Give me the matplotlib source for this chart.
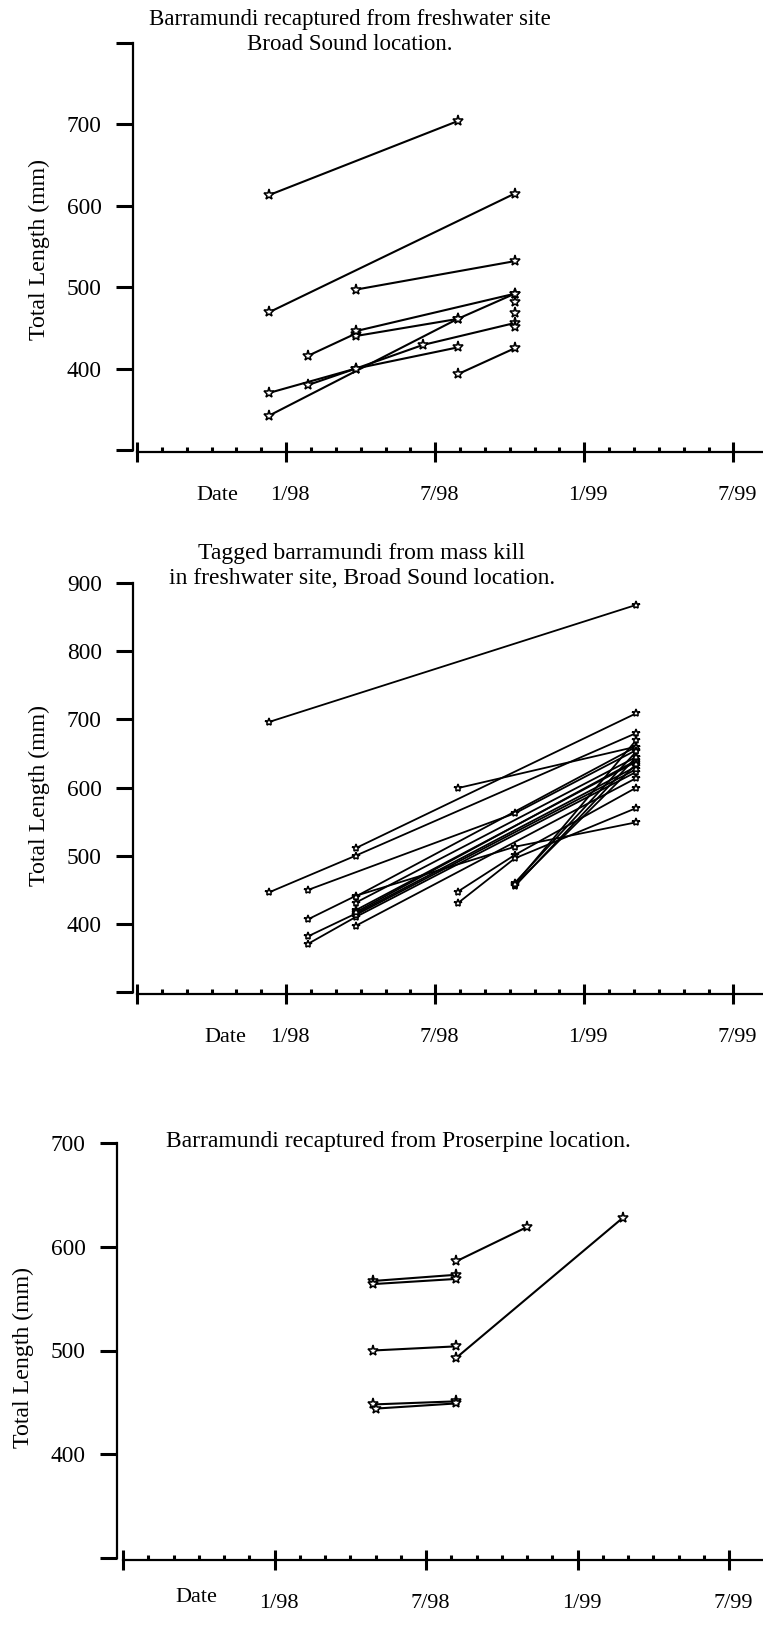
import matplotlib
matplotlib.use('Agg')
import matplotlib.pyplot as plt
import matplotlib.transforms as mtransforms
from matplotlib.ticker import FixedLocator

plt.rcParams['font.family'] = ['Liberation Serif', 'DejaVu Serif']

# --- DATA (x = months since Jan 1997, y = total length mm) ---
BS_FISH = [
    ([11.3, 18.9], [613, 704]),
    ([11.3, 21.2], [469, 615]),
    ([14.8, 21.2], [497, 532]),
    ([12.9, 14.8], [416, 443]),
    ([14.8, 18.9], [440, 461]),
    ([14.8, 21.2], [446, 492]),
    ([11.3, 18.9, 21.2], [342, 461, 492]),
    ([11.3, 14.8, 17.5, 21.2], [370, 400, 429, 456]),
    ([12.9, 14.8, 18.9], [380, 400, 426]),
    ([18.9, 21.2], [393, 425]),
    ([21.2], [482]),
    ([21.2], [468]),
    ([21.2], [451]),
]

KILL_FISH = [
    ([11.3, 26.1], [696, 868]),
    ([11.3, 14.8, 26.1], [446, 500, 680]),
    ([14.8, 26.1], [511, 709]),
    ([12.9, 21.2, 26.1], [450, 562, 655]),
    ([12.9, 14.8, 21.2, 26.1], [407, 441, 513, 549]),
    ([12.9, 14.8, 26.1], [382, 415, 631]),
    ([12.9, 14.8, 26.1], [371, 410, 623]),
    ([14.8, 26.1], [431, 645]),
    ([14.8, 26.1], [397, 614]),
    ([14.8, 26.1], [420, 638]),
    ([14.8, 26.1], [413, 627]),
    ([14.8, 26.1], [440, 660]),
    ([14.8, 26.1], [417, 640]),
    ([18.9, 26.1], [599, 660]),
    ([18.9, 21.2, 26.1], [447, 501, 600]),
    ([18.9, 21.2, 26.1], [430, 496, 570]),
    ([21.2, 26.1], [460, 653]),
    ([21.2, 26.1], [455, 645]),
    ([21.2, 26.1], [457, 635]),
    ([21.2, 26.1], [458, 670]),
]

PRO_FISH = [
    ([15.9, 19.2], [567, 573]),
    ([15.9, 19.2], [564, 569]),
    ([19.2, 22.0], [586, 619]),
    ([15.9, 19.2], [500, 504]),
    ([19.2, 25.8], [493, 628]),
    ([15.9, 19.2], [448, 451]),
    ([16.0, 19.2], [444, 449]),
]

MAJOR_X = [6, 12, 18, 24, 30]
MAJOR_LABELS = ['', '1/98', '7/98', '1/99', '7/99']
MINOR_X = [m for m in range(7, 30) if m not in MAJOR_X]

TITLES = [
    "Barramundi recaptured from freshwater site\nBroad Sound location.",
    "Tagged barramundi from mass kill\nin freshwater site, Broad Sound location.",
    "Barramundi recaptured from Proserpine location.",
]

W, H = 763, 1625
fig = plt.figure(figsize=(W / 100, H / 100), dpi=100)


def make_panel(fish, left, top, bottom, x0px, px_per_month, yticks, ylabels,
               title, title_xy, title_size, ylabel_xy, date_xy, ms, lw):
    # axes placed in pixel coordinates of the figure
    ax = fig.add_axes([left / W, 1 - bottom / H, (W - left) / W, (bottom - top) / H])
    xmin = 6 - (x0px - left) / px_per_month
    xmax = 6 + (W - x0px) / px_per_month
    ax.set_xlim(xmin, xmax)
    ax.set_ylim(yticks[0], yticks[-1])

    for xs, ys in fish:
        ax.plot(xs, ys, color='black', lw=lw, marker='*', ms=ms,
                mfc='white', mec='black', mew=1.15, clip_on=False)

    for s in ['top', 'right']:
        ax.spines[s].set_visible(False)
    ax.spines['left'].set_linewidth(1.6)
    ax.spines['bottom'].set_linewidth(1.6)
    ax.spines['bottom'].set_position(('outward', 1.5))
    ax.spines['bottom'].set_bounds(6, xmax)

    ax.yaxis.set_major_locator(FixedLocator(yticks))
    ax.set_yticklabels(ylabels)
    ax.tick_params(axis='y', direction='out', length=12, width=2.2, pad=10.5,
                   labelsize=16.8)

    ax.xaxis.set_major_locator(FixedLocator(MAJOR_X))
    ax.set_xticklabels(MAJOR_LABELS)
    ax.xaxis.set_minor_locator(FixedLocator(MINOR_X))
    ax.tick_params(axis='x', which='major', direction='inout', length=15,
                   width=2.2, pad=17, labelsize=16)
    ax.tick_params(axis='x', which='minor', direction='in', length=3.5,
                   width=2.2)
    shift = mtransforms.ScaledTranslation(4 / 100, 0, fig.dpi_scale_trans)
    for lab in ax.get_xticklabels():
        lab.set_transform(lab.get_transform() + shift)

    fig.text(title_xy[0] / W, 1 - title_xy[1] / H, title, ha='center',
             va='center', fontsize=title_size, linespacing=1.2)
    fig.text(ylabel_xy[0] / W, 1 - ylabel_xy[1] / H, 'Total Length (mm)',
             rotation=90, ha='center', va='center', fontsize=17.2)
    fig.text(date_xy[0] / W, 1 - date_xy[1] / H, 'Date', ha='center',
             va='center', fontsize=16)
    return ax


make_panel(BS_FISH, 133, 43, 450, 137, 24.85,
           [300, 400, 500, 600, 700, 800], ['', '400', '500', '600', '700', ''],
           TITLES[0], (350, 32), 16.5, (39, 250), (217, 496), 8, 1.5)

make_panel(KILL_FISH, 133, 583, 992, 137, 24.85,
           [300, 400, 500, 600, 700, 800, 900],
           ['', '400', '500', '600', '700', '800', '900'],
           TITLES[1], (362, 566), 17, (39, 795), (225, 1037), 6, 1.3)

make_panel(PRO_FISH, 117, 1143, 1558, 123, 25.25,
           [300, 400, 500, 600, 700], ['', '400', '500', '600', '700'],
           TITLES[2], (398, 1142), 17, (23, 1357), (196, 1598), 8, 1.5)

fig.savefig('out.png', dpi=100)
